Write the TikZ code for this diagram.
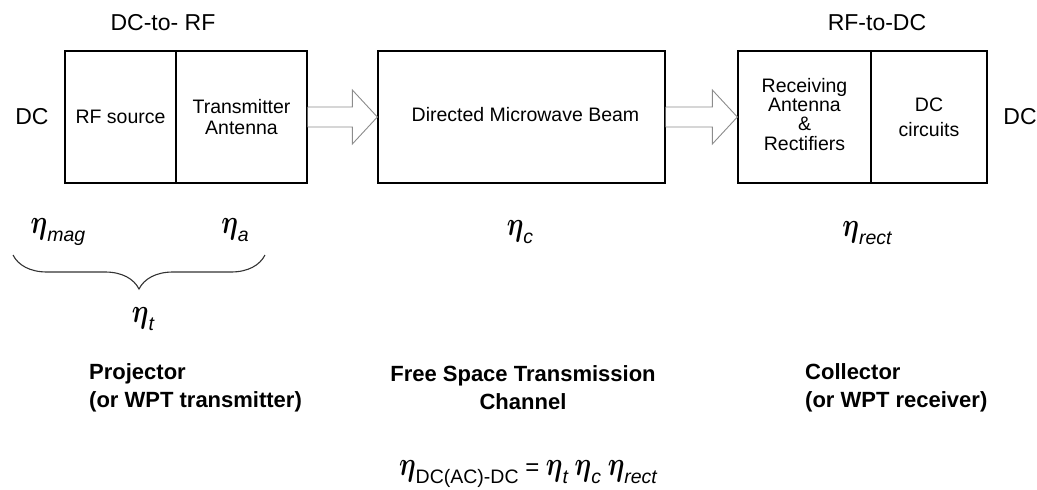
\documentclass[tikz,border=0pt]{standalone}
\usepackage{fontspec}
\setmainfont{Liberation Sans}
\usepackage{graphicx}
\usepackage{bm}
\usetikzlibrary{calc,decorations.pathreplacing}
\newcommand{\eeta}{\scalebox{1.05}[1.35]{\fontsize{30}{30}\selectfont$\bm{\eta}$}}
\newcommand{\esub}[1]{\raisebox{-8pt}{\fontsize{19.5}{20}\selectfont\itshape #1}}
\begin{document}
\begin{tikzpicture}[x=1pt,y=-1pt,
  blk/.style={draw, line width=1.3pt, minimum height=132pt, inner sep=0pt, align=center,
              font=\fontsize{19.5}{21}\selectfont},
  lab/.style={inner sep=0pt, font=\fontsize{23}{24}\selectfont},
  etalab/.style={inner sep=0pt, font=\fontsize{24}{24}\selectfont},
  hollow/.style={draw=black!45, line width=0.9pt, fill=white},
  boldlab/.style={inner sep=0pt, font=\fontsize{22}{28}\selectfont\bfseries}]
\useasboundingbox (0,0) rectangle (1037,490);

% blocks
\node[blk, minimum width=111pt] (rf) at (120.5,117) {RF source};
\node[blk, minimum width=131pt] (ta) at (241.5,117) {Transmitter\\Antenna};
\node[blk, minimum width=287pt] (mw) at (521.5,117) {\raisebox{6pt}{\hspace*{8pt}Directed Microwave Beam}};
\node[blk, minimum width=133pt, font=\fontsize{19.5}{18.5}\selectfont] (rx) at (804.5,117) {\raisebox{6pt}{\begin{tabular}{@{}c@{}}Receiving\\Antenna\\\&\\Rectifiers\end{tabular}}};
\node[blk, minimum width=116pt, font=\fontsize{19.5}{25}\selectfont] (dcc) at (929,117) {DC\\circuits};

% outer labels
\node[lab] (dctorf) at (163,23) {DC-to- RF};
\node[lab] (rftodc) at (877,23) {RF-to-DC};
\node[lab] (dcin) at (32,117) {DC};
\node[lab] (dcout) at (1020,117) {DC};

% hollow arrows
\draw[hollow] ($(ta.east)+(0,-10)$) -- ($(mw.west)+(-25,-10)$) -- ($(mw.west)+(-25,-27)$)
  -- (mw.west) -- ($(mw.west)+(-25,27)$) -- ($(mw.west)+(-25,10)$) -- ($(ta.east)+(0,10)$);
\draw[hollow] ($(mw.east)+(0,-10)$) -- ($(rx.west)+(-25,-10)$) -- ($(rx.west)+(-25,-27)$)
  -- (rx.west) -- ($(rx.west)+(-25,27)$) -- ($(rx.west)+(-25,10)$) -- ($(mw.east)+(0,10)$);

% efficiencies
\node[etalab] (emag) at (58,232) {\eeta\esub{mag}};
\node[etalab] (ea) at (235,230) {\eeta\esub{a}};
\node[etalab] (ec) at (520,232) {\eeta\esub{c}};
\node[etalab] (erect) at (867,233) {\eeta\esub{rect}};
\draw[decorate, decoration={brace, amplitude=34pt, aspect=0.5}, line width=1.1pt, draw=black!80]
  (265,255) -- (13,255);
\node[etalab] (et) at (143,319) {\eeta\esub{t}};

% bottom captions
\node[boldlab, anchor=west, align=left] (proj) at (89,388) {Projector\\(or WPT transmitter)};
\node[boldlab, align=center] (fst) at (523,388) {Free Space Transmission\\Channel};
\node[boldlab, anchor=west, align=left] (coll) at (805,388) {Collector\\(or WPT receiver)};

% overall formula
\node[etalab] (form) at (528,474) {\eeta\esub{\upshape DC(AC)-DC} = \eeta\esub{t} \eeta\esub{c} \eeta\esub{rect}};
\end{tikzpicture}
\end{document}
